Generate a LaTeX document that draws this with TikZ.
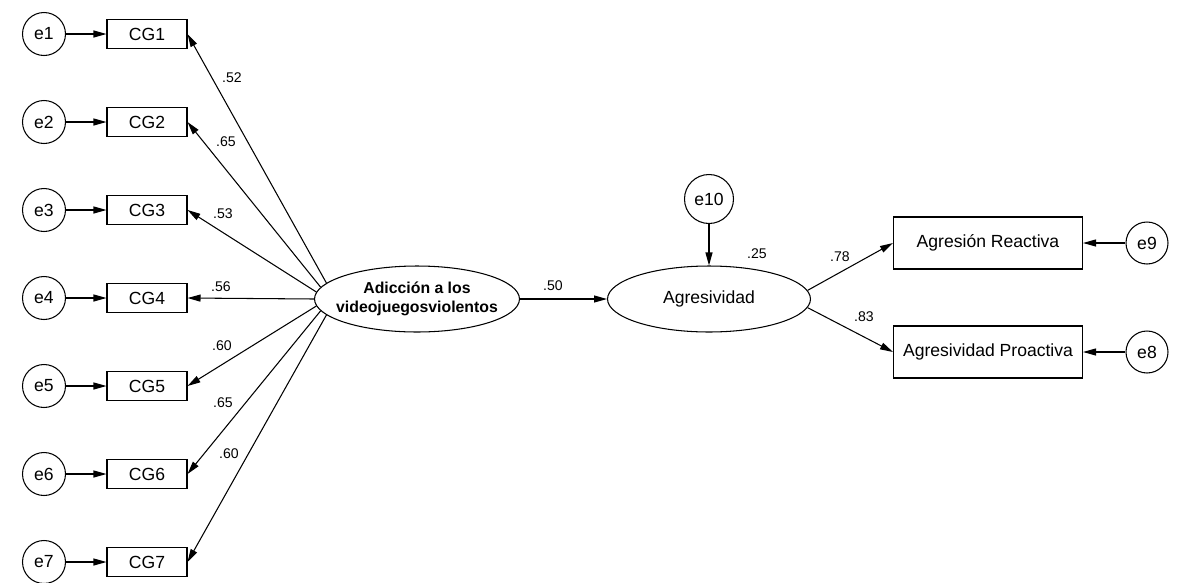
\documentclass[tikz,border=0pt]{standalone}
\usepackage{fontspec}
\setmainfont{Liberation Sans}
\usetikzlibrary{shapes,positioning,arrows.meta,calc}

\begin{document}
\begin{tikzpicture}[x=0.02cm,y=-0.02cm,line width=0.6pt,
    every node/.style={font=\fontsize{10}{12}\selectfont},
    err/.style={draw,circle,minimum size=0.86cm,inner sep=0pt},
    obs/.style={draw,rectangle,inner sep=0pt},
    lat/.style={draw,ellipse,inner sep=0pt,minimum width=4.1cm,minimum height=1.32cm},
    arr/.style={-{Triangle[length=2.6mm,width=1.4mm]}},
    coef/.style={font=\fontsize{8}{9.5}\selectfont}]
  \useasboundingbox (0,0) rectangle (1187,582);
  % indicadores
  \foreach \i in {1,...,7} {
    \node[err] (e\i) at (44,{34+88*(\i-1)}) {e\i};
    \node[obs,minimum width=1.6cm,minimum height=0.58cm] (cg\i) at (147,{34+88*(\i-1)}) {CG\i};
    \draw[arr] (e\i) -- (cg\i);
  }
  % latentes
  \node[lat,font=\bfseries\fontsize{9}{10.5}\selectfont,align=center,inner xsep=-1cm] (adic) at (417,299) {Adicción a los\\videojuegosviolentos};
  \node[lat,minimum width=4.06cm] (agr) at (709,299) {Agresividad};
  \node[err,minimum size=0.98cm] (e10) at (709,199) {e10};
  \node[obs,minimum width=3.78cm,minimum height=1.04cm] (reac) at (988,243) {Agresión Reactiva};
  \node[obs,minimum width=3.78cm,minimum height=1.04cm] (proa) at (988,352) {Agresividad Proactiva};
  \node[err,minimum size=0.84cm] (e9) at (1147,243) {e9};
  \node[err,minimum size=0.84cm] (e8) at (1147,352) {e8};
  % flechas
  \foreach \i/\ang in {1/170,2/173,3/176,4/180,5/184,6/187,7/190}
    \draw[arr] (adic.\ang) -- (cg\i.east);
  \draw[arr] (adic) -- (agr);
  \draw[arr] (e10) -- (agr);
  \draw[arr] (agr.5) -- (reac.west);
  \draw[arr] (agr.-5) -- (proa.west);
  \draw[arr] (e9) -- (reac);
  \draw[arr] (e8) -- (proa);
  % cargas
  \foreach \n/\x/\y/\v in {c1/232/78/.52,c2/226/142/.65,c3/223/214/.53,c4/221/287/.56,
      c5/222/346/.60,c6/223/403/.65,c7/229/454/.60,c8/553/286/.50,c9/757/254/.25,
      c10/840/257/.78,c11/864/317/.83}
    \node[coef] (\n) at (\x,\y) {\v};
\end{tikzpicture}
\end{document}
